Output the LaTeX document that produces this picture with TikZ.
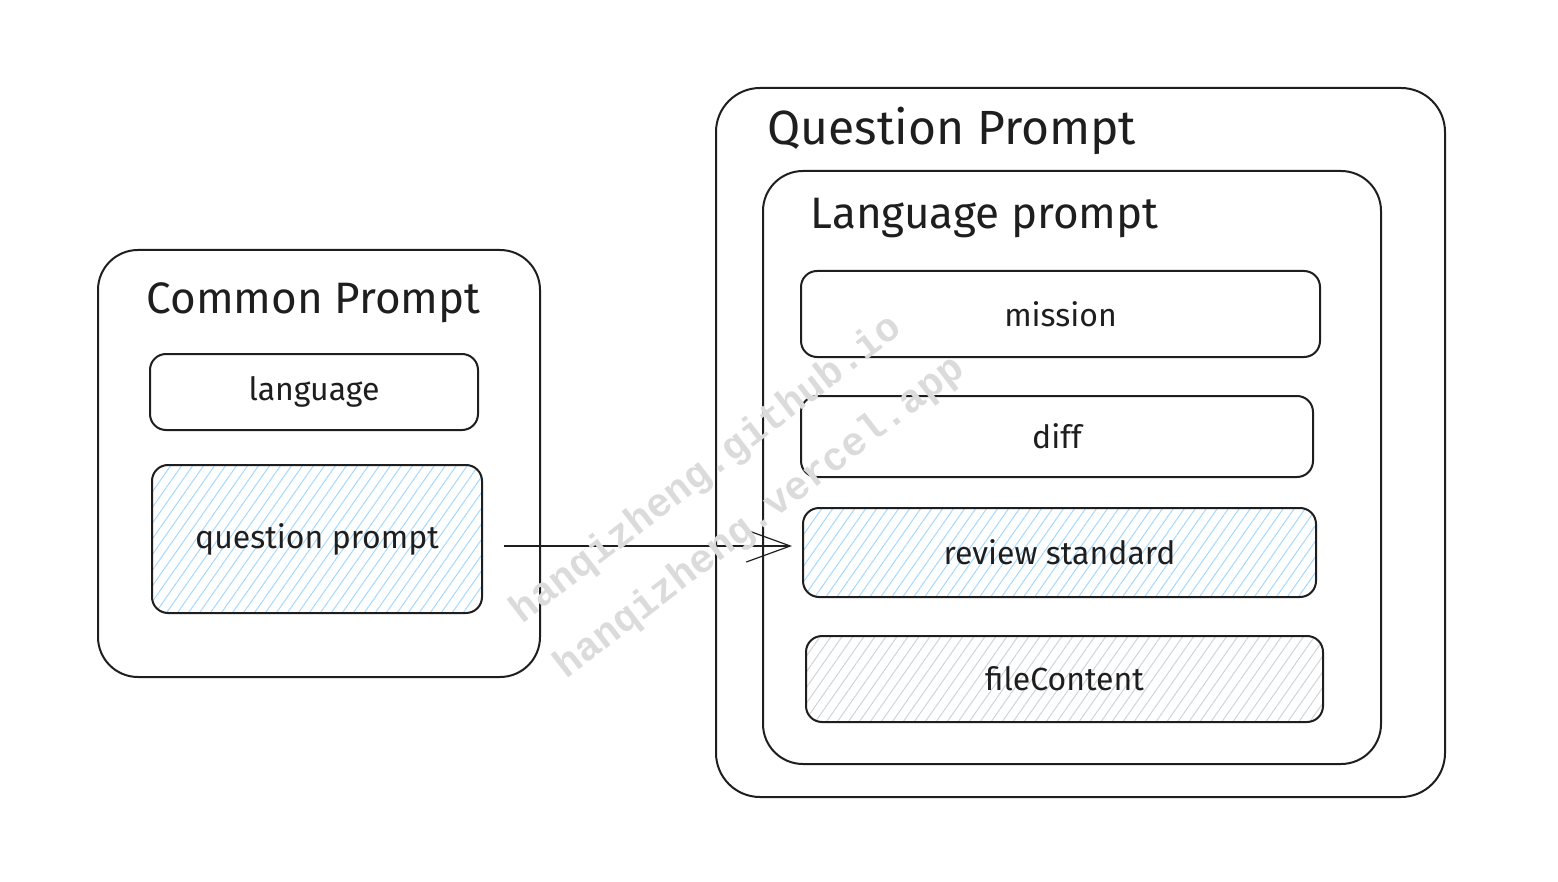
\documentclass[tikz,border=0pt]{standalone}
\usepackage{fontspec}
\setmainfont{Fira Sans}
\newfontfamily\markfont{Liberation Mono}
\usetikzlibrary{arrows.meta, patterns.meta}
\definecolor{inkdark}{HTML}{1E1E1E}
\definecolor{hatchblue}{HTML}{A5D8FF}
\definecolor{hatchgray}{HTML}{CED4DA}

\begin{document}
\begin{tikzpicture}[x=0.5pt, y=-0.5pt, line width=1pt, draw=inkdark,
    >={Straight Barb[length=22pt, width=16pt]},
    box/.style={rectangle, draw=inkdark, line width=1pt, rounded corners=#1},
    box/.default=8pt,
    item/.style={box, font=\fontsize{16}{19}\selectfont, text=inkdark},
    title/.style={anchor=west, font=\fontsize{22}{26}\selectfont, text=inkdark},
    bluehatch/.style={pattern={Lines[angle=55, distance=4.5pt, line width=0.5pt]}, pattern color=hatchblue},
    grayhatch/.style={pattern={Lines[angle=55, distance=4.5pt, line width=0.5pt]}, pattern color=hatchgray},
    watermark/.style={font=\markfont\bfseries\fontsize{20}{20}\selectfont, text=black!14, rotate=37.5}]
    \useasboundingbox (0,0) rectangle (1558,882);

    % Nodes
    \node[box=20pt, minimum width=221pt, minimum height=213.5pt](common) at (319,463.5) {};
    \node[title](commontitle) at (139,303) {Common Prompt};
    \node[item, minimum width=164pt, minimum height=38pt](language) at (314,392) {language};
    \node[item=15pt, bluehatch, minimum width=165pt, minimum height=74pt](qprompt) at (317,539) {question prompt};

    \node[box=22pt, minimum width=364.5pt, minimum height=354.5pt](question) at (1080.5,442.5) {};
    \node[title, font=\fontsize{24}{28}\selectfont](questiontitle) at (760,131) {Question Prompt};
    \node[box=20pt, minimum width=309pt, minimum height=296.5pt](langprompt) at (1072,467.5) {};
    \node[title](langtitle) at (803,218) {Language prompt};

    \node[item, minimum width=259.5pt, minimum height=43pt](mission) at (1060.5,314) {mission};
    \node[item, minimum width=256pt, minimum height=40.5pt](diff) at (1057,436.5) {diff};
    \node[item=12pt, bluehatch, minimum width=256.5pt, minimum height=44.5pt](review) at (1059.5,552.5) {review standard};
    \node[item=10pt, grayhatch, minimum width=258.5pt, minimum height=43pt](filecontent) at (1064.5,679) {fileContent};

    % Arrow
    \draw[->, line width=0.6pt, shorten <=10.5pt, shorten >=5pt]
        ([yshift=-3.5pt]qprompt.east) -- ([yshift=3.25pt]review.west);

    % Watermarks
    \node[watermark](mark1) at (707,470) {hanqizheng.github.io};
    \node[watermark](mark2) at (760,518) {hanqizheng.vercel.app};
\end{tikzpicture}
\end{document}
